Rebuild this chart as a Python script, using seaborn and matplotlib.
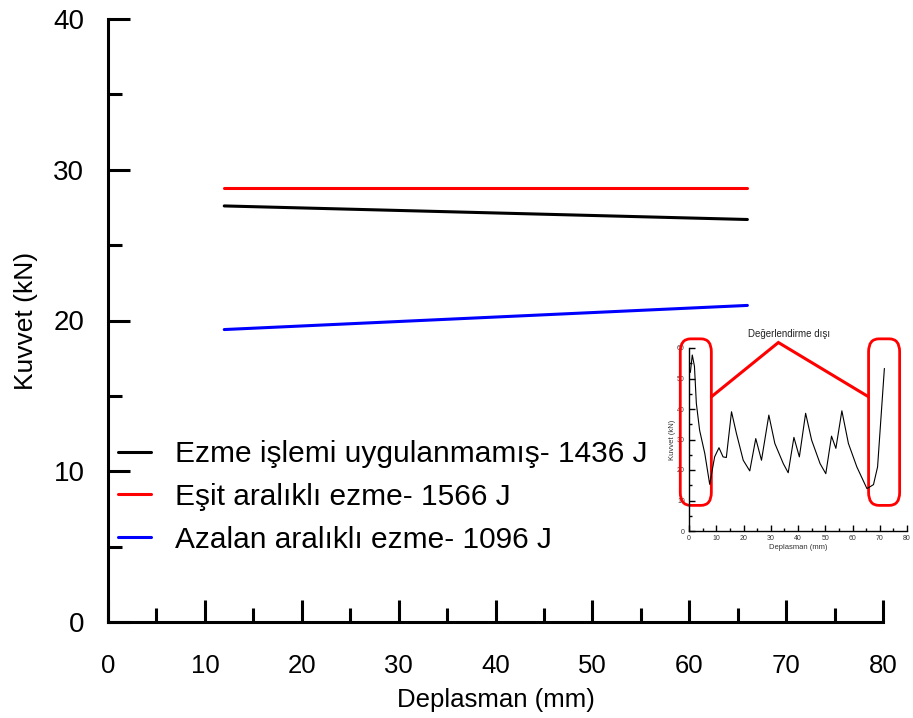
import numpy as np
import pandas as pd
import matplotlib
matplotlib.use("Agg")
import matplotlib.pyplot as plt
from matplotlib.patches import FancyBboxPatch
import seaborn as sns

# ---------------- data ----------------
series_names = ["Ezme işlemi uygulanmamış- 1436 J",
                "Eşit aralıklı ezme- 1566 J",
                "Azalan aralıklı ezme- 1096 J"]
series_colors = ["#000000", "#ff0000", "#0000ff"]
line_x = [12, 66]
black_y = [27.6, 26.7]
red_y = [28.8, 28.8]
blue_y = [19.4, 21.0]

x_ticks = [0, 10, 20, 30, 40, 50, 60, 70, 80]
y_ticks = [0, 10, 20, 30, 40]

inset_x = [0.5, 1.2, 2.0, 2.7, 3.9, 5.8, 7.6, 9.4, 11.0, 12.5, 13.7, 15.6, 17.4,
           19.9, 22.3, 24.5, 26.6, 29.3, 31.5, 34.6, 36.4, 38.5, 40.5, 42.8,
           45.0, 48.1, 50.2, 52.3, 53.9, 56.1, 58.5, 61.6, 65.3, 67.7, 69.2, 71.7]
inset_y = [52.0, 57.7, 54.0, 41.8, 33.0, 25.4, 15.3, 24.3, 27.3, 24.3, 24.1, 39.1, 32.0,
           23.2, 19.7, 30.3, 23.2, 38.0, 28.7, 22.1, 19.1, 30.7, 24.3, 38.6,
           29.8, 22.1, 18.8, 31.1, 27.1, 39.4, 28.7, 21.0, 13.9, 15.2, 21.0, 53.3]
inset_note = "Değerlendirme dışı"
inset_line_x = [8.2, 32.8, 65.9]
inset_line_y = [44.0, 61.8, 44.0]

# ---------------- style ----------------
sns.set_style("white")
plt.rcParams["font.family"] = ["Liberation Sans", "DejaVu Sans"]
plt.rcParams["text.color"] = "black"
plt.rcParams["axes.labelcolor"] = "black"
plt.rcParams["xtick.color"] = "black"
plt.rcParams["ytick.color"] = "black"

fig = plt.figure(figsize=(9.13, 7.18), dpi=100)
ax = fig.add_axes([108/913, 1-622/718, 775/913, 603/718])

rows = []
for name, ys in zip(series_names, [black_y, red_y, blue_y]):
    for xv, yv in zip(line_x, ys):
        rows.append({"x": xv, "y": yv, "series": name})
df = pd.DataFrame(rows)
sns.lineplot(data=df, x="x", y="y", hue="series", palette=series_colors,
             hue_order=series_names, linewidth=2.2, ax=ax, legend=True)

ax.set_xlim(0, 80)
ax.set_ylim(0, 40)
ax.set_xticks(x_ticks)
ax.set_yticks(y_ticks)
ax.set_xticks(np.arange(5, 80, 10), minor=True)
ax.set_yticks(np.arange(5, 40, 10), minor=True)
for s in ["top", "right"]:
    ax.spines[s].set_visible(False)
for s in ["left", "bottom"]:
    ax.spines[s].set_linewidth(2.2)
    ax.spines[s].set_color("black")
ax.tick_params(which="both", bottom=True, left=True, top=False, right=False)
ax.tick_params(which="major", direction="in", length=16, width=2.2, color="black")
ax.tick_params(which="minor", direction="in", length=10, width=2.2, color="black")
ax.tick_params(axis="y", which="major", pad=17, labelsize=20)
ax.tick_params(axis="x", which="major", pad=23, labelsize=18.5)
ax.set_xlabel("Deplasman (mm)", fontsize=18.5, labelpad=7)
ax.set_ylabel("Kuvvet (kN)", fontsize=19, labelpad=11)

leg = ax.legend(loc="upper left", bbox_to_anchor=(118/913, 1-440/718),
                bbox_transform=fig.transFigure, frameon=False, fontsize=21.5,
                handlelength=1.1, handletextpad=0.8, labelspacing=0.5,
                borderpad=0, borderaxespad=0)
for h in leg.get_lines():
    h.set_linewidth(2.2)

# ---------------- inset ----------------
ins = fig.add_axes([689/913, 1-531/718, 218/913, 183/718])
sns.lineplot(x=inset_x, y=inset_y, color="black", linewidth=0.8, ax=ins)
ins.set_xlim(0, 80)
ins.set_ylim(0, 60)
ins.set_xticks(x_ticks)
ins.set_yticks([0, 10, 20, 30, 40, 50, 60])
ins.set_xticks(np.arange(5, 80, 10), minor=True)
ins.set_yticks(np.arange(5, 60, 10), minor=True)
for s in ["top", "right"]:
    ins.spines[s].set_visible(False)
for s in ["left", "bottom"]:
    ins.spines[s].set_linewidth(1.0)
    ins.spines[s].set_color("black")
ins.tick_params(which="both", bottom=True, left=True, top=False, right=False)
ins.tick_params(which="major", direction="in", length=4, width=1.0, pad=3,
                labelsize=5, color="black", labelcolor="#333333")
ins.tick_params(which="minor", direction="in", length=2.5, width=1.0, color="black")
ins.set_xlabel("Deplasman (mm)", fontsize=5.5, labelpad=1, color="#333333")
ins.set_ylabel("Kuvvet (kN)", fontsize=5.5, labelpad=1, color="#333333")
ins.patch.set_alpha(0)

aspect = (218/80) / (183/60)
for (x0, x1) in [(-3.2, 8.2), (65.9, 77.3)]:
    box = FancyBboxPatch((x0, 8.4), x1 - x0, 54.6,
                         boxstyle="round,pad=0,rounding_size=3.8",
                         mutation_aspect=1/aspect,
                         fill=False, edgecolor="#ff0000", linewidth=2, clip_on=False)
    ins.add_patch(box)
ins.plot(inset_line_x, inset_line_y, color="#ff0000", linewidth=2.2, clip_on=False,
         solid_joinstyle="miter")
ins.text(36.8, 64.5, inset_note, fontsize=7, ha="center", va="center", color="#222222")

fig.savefig("out.png", dpi=100)
